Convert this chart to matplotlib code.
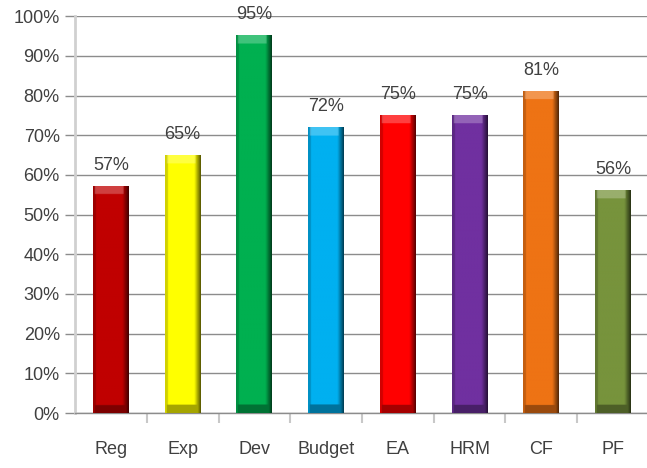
import numpy as np
import matplotlib.pyplot as plt
from matplotlib.colors import to_rgb
from matplotlib.ticker import FuncFormatter, FixedLocator

# données
categories = ['Reg', 'Exp', 'Dev', 'Budget', 'EA', 'HRM', 'CF', 'PF']
valeurs = [57, 65, 95, 72, 75, 75, 81, 56]
couleurs = ['#C00000', '#FFFF00', '#00B050', '#00B0F0', '#FF0000', '#7030A0', '#EE7314', '#77933C']

plt.rcParams['font.family'] = ['Liberation Sans', 'DejaVu Sans']

fig = plt.figure(figsize=(6.47, 4.68), dpi=100)
ax = fig.add_axes([0.116, 0.1175, 0.887, 0.848])

x = np.arange(len(categories))
largeur = 0.5
barres = ax.bar(x, valeurs, width=largeur, color=couleurs, zorder=3)

# effet biseauté façon Excel
bande = 2.0
for xi, v, c in zip(x, valeurs, couleurs):
    base = np.array(to_rgb(c))
    nx, ny = 60, 400
    u = np.linspace(0, 1, nx)
    yy = np.linspace(0, v, ny)
    U, Y = np.meshgrid(u, yy)
    f = np.ones_like(U)
    f = np.where(U < 0.07, 0.82, f)
    f = np.where(U > 0.82, 1 - (U - 0.82) / 0.18 * 0.65, f)
    bas = (Y < bande) & (U > 0.05) & (U < 0.92)
    f = np.where(bas, 0.65, f)
    img = base[None, None, :] * f[..., None]
    haut = (Y > v - bande) & (U > 0.05) & (U < 0.85)
    img = np.where(haut[..., None], img + (1 - img) * 0.25, img)
    img = np.clip(img, 0, 1)
    ax.imshow(img, origin='lower', aspect='auto', interpolation='bilinear',
              extent=(xi - largeur / 2, xi + largeur / 2, 0, v), zorder=4)

for xi, v in zip(x, valeurs):
    ax.annotate(f'{v}%', (xi, v), xytext=(0, 9), textcoords='offset points',
                ha='center', va='bottom', fontsize=13, color='#404040', zorder=5)

ax.set_xlim(-0.5, len(categories) - 0.5)
ax.set_ylim(0, 100)
ax.set_yticks(np.arange(0, 101, 10))
ax.yaxis.set_major_formatter(FuncFormatter(lambda v, p: f'{v:.0f}%'))
ax.grid(axis='y', color='#8C8C8C', linewidth=1, zorder=0)
ax.set_axisbelow(True)

ax.set_xticks(x)
ax.set_xticklabels(categories)
ax.xaxis.set_minor_locator(FixedLocator(np.arange(0.5, len(categories) - 0.5, 1)))
ax.tick_params(axis='x', which='major', length=0, pad=20, labelsize=13, labelcolor='#404040')
ax.tick_params(axis='x', which='minor', length=7, width=1.5, color='#C8C8C8')
ax.tick_params(axis='y', length=7, width=1, color='#8C8C8C', labelsize=13, labelcolor='#404040', pad=4)

for s in ['top', 'right']:
    ax.spines[s].set_visible(False)
ax.spines['left'].set_color('#D0D0D0')
ax.spines['left'].set_linewidth(2)
ax.spines['bottom'].set_color('#8C8C8C')
ax.spines['bottom'].set_linewidth(1)

plt.savefig('out.png', dpi=100)
